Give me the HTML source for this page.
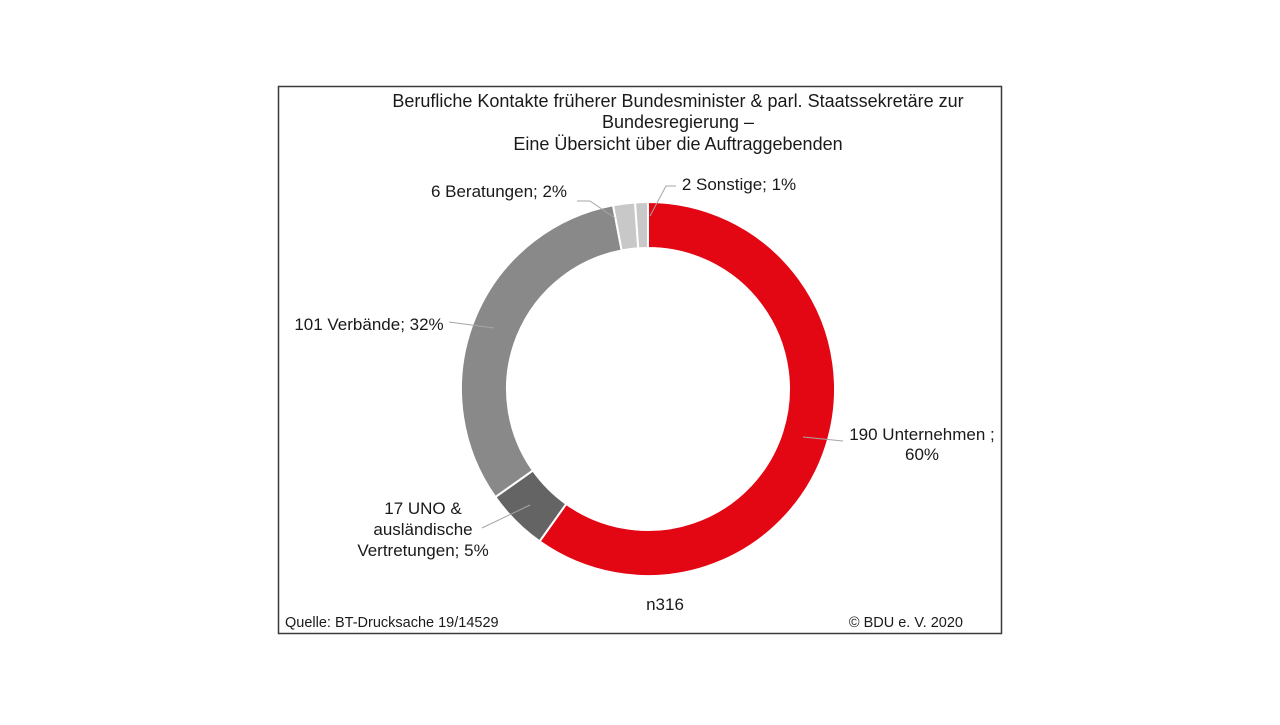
<!DOCTYPE html>
<html><head><meta charset="utf-8"><style>
html,body{margin:0;padding:0;background:#fff;}
svg text{font-family:"Liberation Sans",Arial,sans-serif;font-size:17px;fill:#1a1a1a;}
</style></head><body>
<svg id="s" width="1280" height="720" viewBox="0 0 1280 720" xmlns="http://www.w3.org/2000/svg">
<rect x="278.5" y="86.5" width="723" height="547" fill="#fff" stroke="#3a3a3a" stroke-width="1.5"/>
<g id="ring"></g>
<g stroke="#a6a6a6" stroke-width="1" fill="none">
<polyline points="803,437 843,441"/>
<polyline points="449,322 494,328"/>
<polyline points="482,528 530,505"/>
<polyline points="577,201 590,201 615,218"/>
<polyline points="676,186 666,186 650,216"/>
</g>
<g style="font-size:18px">
<text x="678" y="107" text-anchor="middle" style="font-size:18px">Berufliche Kontakte früherer Bundesminister &amp; parl. Staatssekretäre zur</text>
<text x="678" y="128" text-anchor="middle" style="font-size:18px">Bundesregierung –</text>
<text x="678" y="150" text-anchor="middle" style="font-size:18px">Eine Übersicht über die Auftraggebenden</text>
</g>
<text x="922" y="440" text-anchor="middle">190 Unternehmen ;</text>
<text x="922" y="460" text-anchor="middle">60%</text>
<text x="369" y="330" text-anchor="middle">101 Verbände; 32%</text>
<text x="423" y="514" text-anchor="middle">17 UNO &amp;</text>
<text x="423" y="535" text-anchor="middle">ausländische</text>
<text x="423" y="556" text-anchor="middle">Vertretungen; 5%</text>
<text x="499" y="197" text-anchor="middle">6 Beratungen; 2%</text>
<text x="739" y="190" text-anchor="middle">2 Sonstige; 1%</text>
<text x="665" y="610" text-anchor="middle">n316</text>
<text x="285" y="627" style="font-size:14.5px">Quelle: BT-Drucksache 19/14529</text>
<text x="963" y="627" text-anchor="end" style="font-size:14.5px">© BDU e. V. 2020</text>
</svg>
<script>
var cx=648,cy=389,R=187,r=141;
var data=[[190,"#e30613"],[17,"#646464"],[101,"#898989"],[6,"#c8c8c8"],[3.5,"#c8c8c8"]];
var tot=0;data.forEach(function(d){tot+=d[0];});
var a=0,g=document.getElementById("ring"),h="";
function p(rad,ang){return [cx+rad*Math.sin(ang),cy-rad*Math.cos(ang)];}
data.forEach(function(d){
 var a2=a+d[0]/tot*2*Math.PI,l=(a2-a)>Math.PI?1:0;
 var A=p(R,a),B=p(R,a2),C=p(r,a2),D=p(r,a);
 h+='<path d="M'+A+' A'+R+','+R+' 0 '+l+' 1 '+B+' L'+C+' A'+r+','+r+' 0 '+l+' 0 '+D+' Z" fill="'+d[1]+'" stroke="#fff" stroke-width="2"/>';
 a=a2;});
g.innerHTML=h;
</script>
</body></html>
